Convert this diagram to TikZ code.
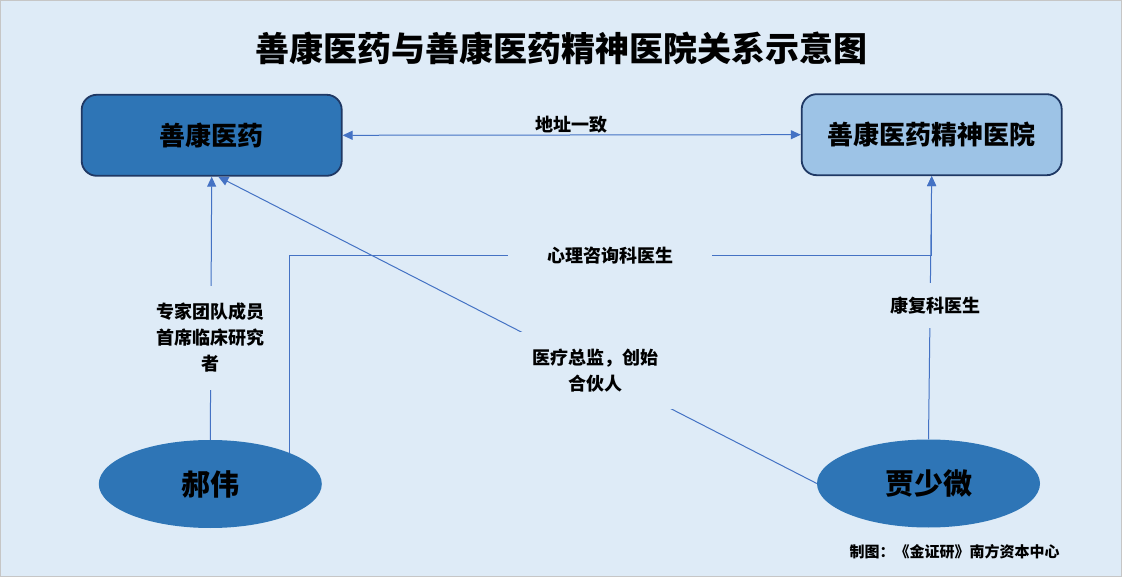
\documentclass[tikz,border=0pt]{standalone}
\usepackage{fontspec}
\setmainfont{Noto Sans CJK SC}
\usetikzlibrary{arrows.meta,shapes.geometric,calc}
\definecolor{bg}{HTML}{DEEBF7}
\definecolor{darkfill}{HTML}{2E75B6}
\definecolor{lightfill}{HTML}{9DC3E6}
\definecolor{edgecol}{HTML}{1F3864}
\definecolor{linkcol}{HTML}{4472C4}
\begin{document}
\begin{tikzpicture}[x=1pt,y=-1pt,
 box/.style={draw=edgecol, line width=1.8pt, rounded corners=15pt, minimum width=260pt, minimum height=81pt, inner sep=0pt, font=\fontsize{26}{30}\selectfont\bfseries},
 person/.style={ellipse, fill=darkfill, minimum width=223pt, minimum height=88pt, inner sep=0pt, font=\fontsize{29}{32}\selectfont\bfseries},
 link/.style={draw=linkcol, line width=1pt},
 arr/.style={link, -{Triangle[length=10pt,width=9pt]}},
 lbl/.style={fill=bg, font=\fontsize{18}{26}\selectfont\bfseries, align=center, inner sep=0pt}
]
\useasboundingbox (0,0) rectangle (1122,577);
\fill[bg] (0,0) rectangle (1122,577);
\draw[gray!45, line width=1pt] (0.5,0.5) rectangle (1121.5,576.5);

\node[font=\fontsize{34}{40}\selectfont\bfseries] (title) at (561,48) {善康医药与善康医药精神医院关系示意图};

\node[box, fill=darkfill] (A) at (211.7,135.3) {善康医药};
\node[box, fill=lightfill] (B) at (931.7,134.7) {善康医药精神医院};
\node[person] (hw) at (210.3,484) {郝伟};
\node[person] (jsw) at (928.5,483.5) {贾少微};

\coordinate (elb) at (0,256);

\draw[link, {Triangle[length=10pt,width=9pt]}-{Triangle[length=10pt,width=9pt]}] (A.east) -- (B.west)
  node[midway, above=1pt, font=\fontsize{18}{22}\selectfont\bfseries, inner sep=0pt] (l1) {地址一致};

\draw[arr] (hw.north) -- (A.south)
  node[lbl, pos=0.387, inner xsep=2pt, inner ysep=17pt] (l2) {专家团队成员\\首席临床研究\\者};

\draw[arr] (hw.north east) -- (hw.north east |- elb) -- (B.south |- elb)
  node[lbl, midway, inner xsep=39pt, inner ysep=2pt] (l3) {心理咨询科医生} -- (B.south);

\draw[arr] (jsw.north) -- (B.south)
  node[lbl, pos=0.509, xshift=5pt, inner xsep=2pt, inner ysep=14pt] (l4) {康复科医生};

\draw[arr] (jsw.west) -- ([xshift=6.6pt]A.south)
  node[lbl, pos=0.369, inner xsep=15pt, inner ysep=17pt] (l5) {医疗总监，创始\\合伙人};

\node[font=\fontsize{15}{18}\selectfont\bfseries] (cap) at (954.7,551.5) {制图：《金证研》南方资本中心};
\end{tikzpicture}
\end{document}
